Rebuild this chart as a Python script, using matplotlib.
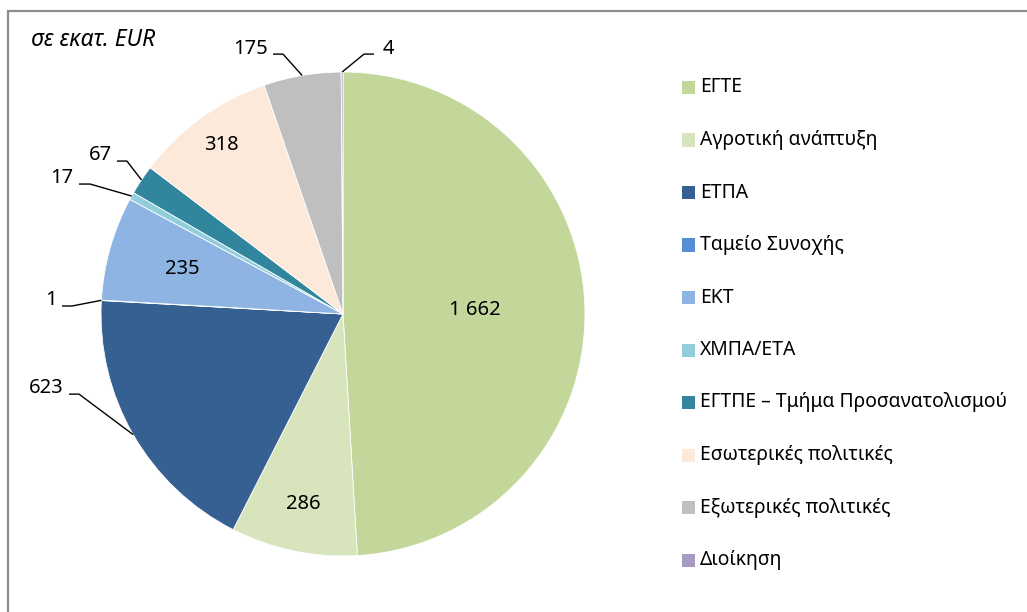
import matplotlib
matplotlib.use("Agg")
import matplotlib.pyplot as plt
from matplotlib.patches import Rectangle
import numpy as np

plt.rcParams['font.family'] = ['Noto Sans', 'DejaVu Sans']

# ---- data ----
categories = ["ΕΓΤΕ", "Αγροτική ανάπτυξη", "ΕΤΠΑ", "Ταμείο Συνοχής", "ΕΚΤ",
              "ΧΜΠΑ/ΕΤΑ", "ΕΓΤΠΕ – Τμήμα Προσανατολισμού",
              "Εσωτερικές πολιτικές", "Εξωτερικές πολιτικές", "Διοίκηση"]
values = [1662, 286, 623, 1, 235, 17, 67, 318, 175, 4]
value_labels = ["1 662", "286", "623", "1", "235", "17", "67", "318", "175", "4"]
colors = ["#C4D79B", "#D8E4BC", "#366092", "#558ED5", "#8DB4E2",
          "#92CDDC", "#31859C", "#FDE9D9", "#BFBFBF", "#A89BC2"]
unit_text = "σε εκατ. EUR"

W, H = 1027, 612
fig = plt.figure(figsize=(W / 100, H / 100), dpi=100)

def fx(px):
    return px / W

def fy(py):
    return 1 - py / H

# pie axes: center (343,314), radius 242 px
cx, cy, R = 343, 314, 242
ax = fig.add_axes([fx(cx - R), fy(cy + R), 2 * R / W, 2 * R / H])
wedges, _ = ax.pie(values, colors=colors, startangle=90, counterclock=False,
                   radius=1.0, wedgeprops=dict(edgecolor="white", linewidth=0.6))
ax.set_xlim(-1, 1)
ax.set_ylim(-1, 1)
ax.set_aspect("equal")
ax.axis("off")

total = float(sum(values))
cum = np.cumsum([0] + values)
mid_frac = [(cum[i] + cum[i + 1]) / 2 / total for i in range(len(values))]

def arc_point(i, r=1.0):
    a = 2 * np.pi * mid_frac[i]
    return r * np.sin(a), r * np.cos(a)

label_fs = 14.5
# inside labels: radius factor per slice
inside_r = {0: 0.545, 1: 0.80, 4: 0.69, 7: 0.86}
for i, r in inside_r.items():
    x, y = arc_point(i, r)
    ax.text(x, y, value_labels[i], ha="center", va="center", fontsize=label_fs,
            color="black")

# outside labels: text anchor (x, y, ha), leader line start, elbow
outside = {
    8: ((-0.31, 1.095, "right"), (-0.289, 1.074), (-0.248, 1.074)),
    9: ((0.165, 1.095, "left"), (0.128, 1.074), (0.087, 1.074)),
    6: ((-0.955, 0.657, "right"), (-0.934, 0.632), (-0.893, 0.632)),
    5: ((-1.116, 0.562, "right"), (-1.091, 0.537), (-1.045, 0.537)),
    3: ((-1.182, 0.058, "right"), (-1.161, 0.033), (-1.12, 0.033)),
    2: ((-1.157, -0.306, "right"), (-1.132, -0.331), (-1.091, -0.331)),
}
for i, ((tx, ty, ha), p0, p1) in outside.items():
    ax.text(tx, ty, value_labels[i], ha=ha, va="center", fontsize=label_fs,
            color="black", clip_on=False)
    ex, ey = arc_point(i)
    ax.plot([p0[0], p1[0], ex], [p0[1], p1[1], ey], color="black", lw=1.0,
            clip_on=False, solid_capstyle="butt")

# unit text
fig.text(fx(31), fy(40), unit_text, fontsize=16.5, style="italic",
         ha="left", va="center")

# legend (manual)
leg_y0, leg_dy = 87.5, 52.5
sq = 13
for k, (name, col) in enumerate(zip(categories, colors)):
    yc = leg_y0 + k * leg_dy
    fig.patches.append(Rectangle((fx(682), fy(yc + sq / 2)), sq / W, sq / H,
                                 transform=fig.transFigure, facecolor=col,
                                 edgecolor="none"))
    fig.text(fx(700), fy(yc), name, fontsize=13.9, ha="left", va="center")

# outer border
fig.patches.append(Rectangle((fx(7.5), -0.1), 1.2, fy(10.5) + 0.1,
                             transform=fig.transFigure, facecolor="none",
                             edgecolor="#8C8C8C", linewidth=1.6))

fig.savefig("out.png", dpi=100)
